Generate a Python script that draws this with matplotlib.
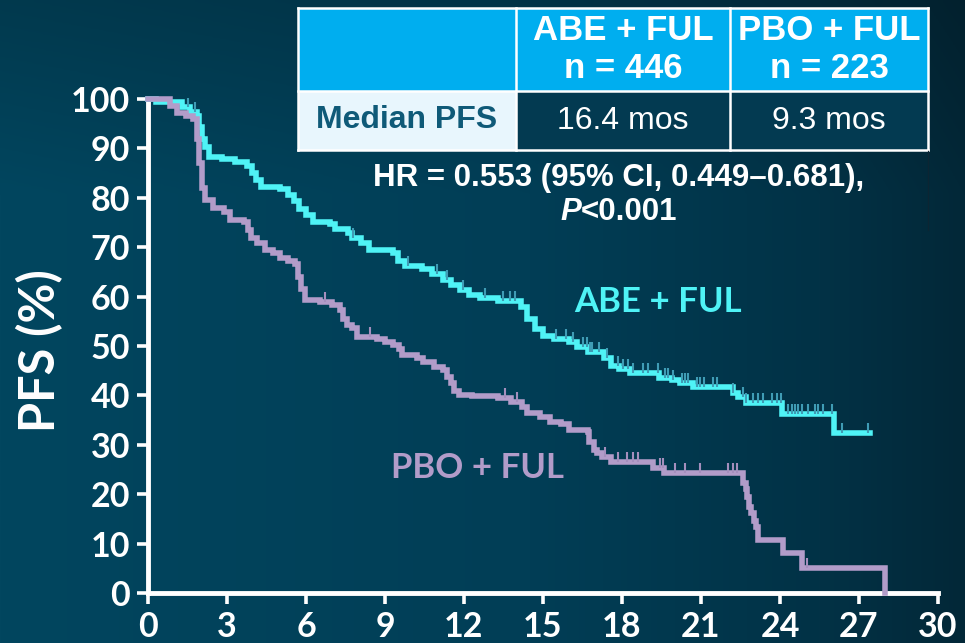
import numpy as np
import matplotlib.pyplot as plt
from matplotlib.patches import Rectangle

# Kaplan-Meier steps: time (months) and PFS (%) after each step
abe_t = [0, 0.3, 1.3, 1.6, 1.85, 1.95, 2.05, 2.15, 2.3, 2.8, 3.3, 3.75, 3.95, 4.1, 4.3,
         5.0, 5.3, 5.55, 5.75, 6.0, 6.25, 6.9, 7.1, 7.6, 7.75, 8.1, 8.4, 9.3, 9.5, 9.75,
         10.4, 10.8, 11.2, 11.5, 11.85, 12.2, 12.6, 13.3, 14.15, 14.4, 14.7, 15.0, 15.4,
         16.0, 16.3, 16.7, 17.3, 17.6, 17.9, 18.3, 19.4, 19.9, 20.2, 20.7, 22.2, 22.4,
         22.7, 24.08, 26.05, 27.4]
abe_s = [100, 99.3, 98.3, 97.3, 96.5, 94.3, 92, 90.3, 88.3, 87.8, 87.2, 86.5, 85, 83.6, 82.2,
         81.8, 80.6, 79.3, 77.8, 76.5, 75.2, 74.6, 73.7, 72.8, 71.9, 70.9, 69.4, 68.8, 67.3, 66.2,
         65.6, 64.6, 63.4, 62.4, 61.3, 60.4, 59.7, 59.2, 57.8, 55.5, 53.5, 52, 51.4,
         50.8, 49.8, 48.8, 47.6, 46, 45.3, 44.6, 43.6, 43.1, 42.5, 41.7, 40.5, 39.7,
         38.5, 36.2, 32.4, 32.4]

pbo_t = [0, 0.85, 1.1, 1.45, 1.7, 1.85, 1.95, 2.05, 2.15, 2.45, 2.9, 3.1, 3.65, 3.8, 3.9,
         4.15, 4.45, 4.75, 5.0, 5.3, 5.6, 5.68, 5.8, 5.95, 6.55, 7.0, 7.3, 7.42, 7.55, 7.75,
         7.95, 8.7, 9.0, 9.3, 9.55, 9.65, 10.2, 10.45, 10.85, 11.2, 11.35, 11.5, 11.62, 11.8,
         12.3, 13.3, 13.8, 14.2, 14.4, 14.9, 15.25, 15.7, 16.0, 16.7, 16.75, 16.95, 17.05,
         17.25, 17.6, 19.18, 19.6, 22.58, 22.7, 22.75, 22.82, 22.9, 23.0, 23.07, 23.15,
         24.1, 24.84, 28.0]
pbo_s = [100, 98.5, 97.2, 96.5, 96, 92, 87, 82, 79.6, 78, 77.1, 75.6, 75.1, 73.5, 71.9,
         70.9, 69.4, 68.8, 67.8, 67.2, 66.6, 64, 61.5, 59.4, 58.9, 58.2, 57.3, 55.5, 54.3, 53.6,
         51.8, 51.4, 50.8, 50.2, 49.4, 48.2, 47.6, 46.8, 45.8, 45.1, 43.8, 42.5, 40.8, 40.1,
         39.8, 39.5, 38.7, 37.7, 36.4, 35.7, 34.6, 34.2, 33, 32.6, 30.6, 29, 28.3,
         27.5, 26.5, 25.3, 24.3, 22.3, 21, 19.4, 17.5, 16.2, 14.5, 13.4, 10.7,
         8.1, 5.1, 0]

# censoring times (months)
abe_cens = [1.52, 1.79, 7.79, 9.87, 10.98, 11.36, 11.96, 12.8, 13.48, 13.75, 13.94, 15.5,
            15.88, 16.14, 16.52, 16.67, 16.79, 16.86, 17.13, 17.43, 17.85, 18.04, 18.23,
            18.42, 18.8, 18.99, 19.37, 19.64, 19.75, 19.94, 20.28, 20.39, 20.51, 20.85,
            20.96, 21.12, 21.46, 21.61, 22.22, 22.6, 22.71, 22.98, 23.17, 23.36, 23.7,
            23.89, 24.04, 24.31, 24.46, 24.57, 24.69, 24.84, 25.07, 25.33, 25.45, 25.64,
            25.98, 26.36, 27.35]
pbo_cens = [6.72, 8.43, 13.56, 14.01, 17.36, 17.85, 18.19, 18.42, 18.61, 19.45, 19.56,
            20.01, 20.39, 20.96, 22.03, 22.22, 22.37, 25.03]

x_ticks = list(range(0, 31, 3))
y_ticks = list(range(0, 101, 10))

arm_names = ["ABE + FUL", "PBO + FUL"]
arm_n = [446, 223]
median_pfs = [16.4, 9.3]
hr_line = "HR = 0.553 (95% CI, 0.449\u20130.681),"
p_value = "<0.001"

ABE_COL = "#4ff3f6"
PBO_COL = "#b29cc9"
ABE_CENS_COL = "#3f9cb5"
PBO_CENS_COL = "#a48fbd"
HEAD_COL = "#00aeef"
LABEL_FONT = ["Lato", "DejaVu Sans"]
TABLE_FONT = ["Liberation Sans", "DejaVu Sans"]


def surv_at(times, surv, t):
    idx = np.searchsorted(times, t, side="right") - 1
    return np.asarray(surv)[idx]


fig = plt.figure(figsize=(9.65, 6.43), dpi=100)

# background gradient, lighter teal on the left, darker toward the right edge
bg = fig.add_axes([0, 0, 1, 1], zorder=0)
xs = np.linspace(0, 1, 400)
stops_x = [0, 0.55, 0.85, 1.0]
stops_c = np.array([[2, 70, 95], [1, 62, 86], [2, 50, 70], [3, 40, 56]]) / 255.0
row = np.stack([np.interp(xs, stops_x, stops_c[:, k]) for k in range(3)], axis=-1)
ys = np.linspace(0, 1, 200)
shade = np.interp(ys, [0, 0.3, 1], [0.82, 1.0, 1.0])
grad = row[None, :, :] * shade[:, None, None]
bg.imshow(grad, aspect="auto", extent=[0, 1, 0, 1], origin="upper")
bg.axis("off")

ax = fig.add_axes([148 / 965, 1 - 593 / 643, 790 / 965, 494 / 643], zorder=1)
ax.set_facecolor("none")

ax.plot(abe_t, abe_s, drawstyle="steps-post", color=ABE_COL, lw=4.0, clip_on=False,
        solid_joinstyle="miter", zorder=3)
ax.plot(pbo_t, pbo_s, drawstyle="steps-post", color=PBO_COL, lw=4.0, clip_on=False,
        solid_joinstyle="miter", zorder=3)

abe_cy = surv_at(abe_t, abe_s, abe_cens)
pbo_cy = surv_at(pbo_t, pbo_s, pbo_cens)
ax.vlines(abe_cens, abe_cy, abe_cy + 2.0, color=ABE_CENS_COL, lw=1.5, zorder=4, clip_on=False)
ax.vlines(pbo_cens, pbo_cy, pbo_cy + 2.0, color=PBO_CENS_COL, lw=1.5, zorder=4, clip_on=False)

ax.text(19.37, 59.0, arm_names[0], color=ABE_COL, fontsize=25, fontweight="bold",
        family=LABEL_FONT, ha="center", va="center")
ax.text(12.53, 25.3, arm_names[1], color=PBO_COL, fontsize=25, fontweight="bold",
        family=LABEL_FONT, ha="center", va="center")

ax.set_xlim(0, 30)
ax.set_ylim(0, 100)
ax.set_xticks(x_ticks)
ax.set_yticks(y_ticks)
for side in ["top", "right"]:
    ax.spines[side].set_visible(False)
for side in ["left", "bottom"]:
    ax.spines[side].set_color("white")
    ax.spines[side].set_linewidth(3.5)
    ax.spines[side].set_capstyle("projecting")
ax.tick_params(colors="white", length=8, width=2.6, direction="out", pad=5, labelsize=24.5)
for lab in ax.get_xticklabels() + ax.get_yticklabels():
    lab.set_family(LABEL_FONT)
    lab.set_fontweight("bold")

fig.text(40 / 965, 1 - 351 / 643, "PFS (%)", rotation=90, color="white", fontsize=35,
         fontweight="bold", family=LABEL_FONT, ha="center", va="center")

# summary table drawn in pixel coordinates on top
tb = fig.add_axes([0, 0, 1, 1], zorder=5)
tb.set_xlim(0, 965)
tb.set_ylim(643, 0)
tb.axis("off")

col_x = [298, 516, 730, 928]
row_y = [8, 91, 150]
tb.add_patch(Rectangle((col_x[0], row_y[0]), col_x[3] - col_x[0], row_y[1] - row_y[0],
                       facecolor=HEAD_COL, edgecolor="none"))
tb.add_patch(Rectangle((col_x[0], row_y[1]), col_x[1] - col_x[0], row_y[2] - row_y[1],
                       facecolor="#e8f6fd", edgecolor="none"))
tb.add_patch(Rectangle((col_x[1], row_y[1]), col_x[3] - col_x[1], row_y[2] - row_y[1],
                       facecolor="#033a51", edgecolor="none"))
for x in col_x:
    tb.plot([x, x], [row_y[0], row_y[2]], color="white", lw=1.8)
for y in row_y:
    tb.plot([col_x[0], col_x[3]], [y, y], color="white", lw=1.8)
tb.plot([928, 928], [151, 230], color="#0c2533", lw=1.0)

for i in range(2):
    cx = (col_x[i + 1] + col_x[i + 2]) / 2
    tb.text(cx, 31, arm_names[i], color="white", fontsize=25, fontweight="bold",
            family=TABLE_FONT, ha="center", va="center")
    tb.text(cx, 68, f"n = {arm_n[i]}", color="white", fontsize=25, fontweight="bold",
            family=TABLE_FONT, ha="center", va="center")
    tb.text(cx, 121, f"{median_pfs[i]} mos", color="white", fontsize=23,
            family=TABLE_FONT, ha="center", va="center")
tb.text((col_x[0] + col_x[1]) / 2, 120, "Median PFS", color="#0f5a78", fontsize=23,
        fontweight="bold", family=TABLE_FONT, ha="center", va="center")

tb.text(619, 178, hr_line, color="white", fontsize=22.5, fontweight="bold",
        family=TABLE_FONT, ha="center", va="center")
tb.text(581, 212, "P", color="white", fontsize=22.5, fontweight="bold", fontstyle="italic",
        family=TABLE_FONT, ha="right", va="center")
tb.text(581, 212, p_value, color="white", fontsize=22.5, fontweight="bold",
        family=TABLE_FONT, ha="left", va="center")

fig.savefig("out.png", dpi=100)
